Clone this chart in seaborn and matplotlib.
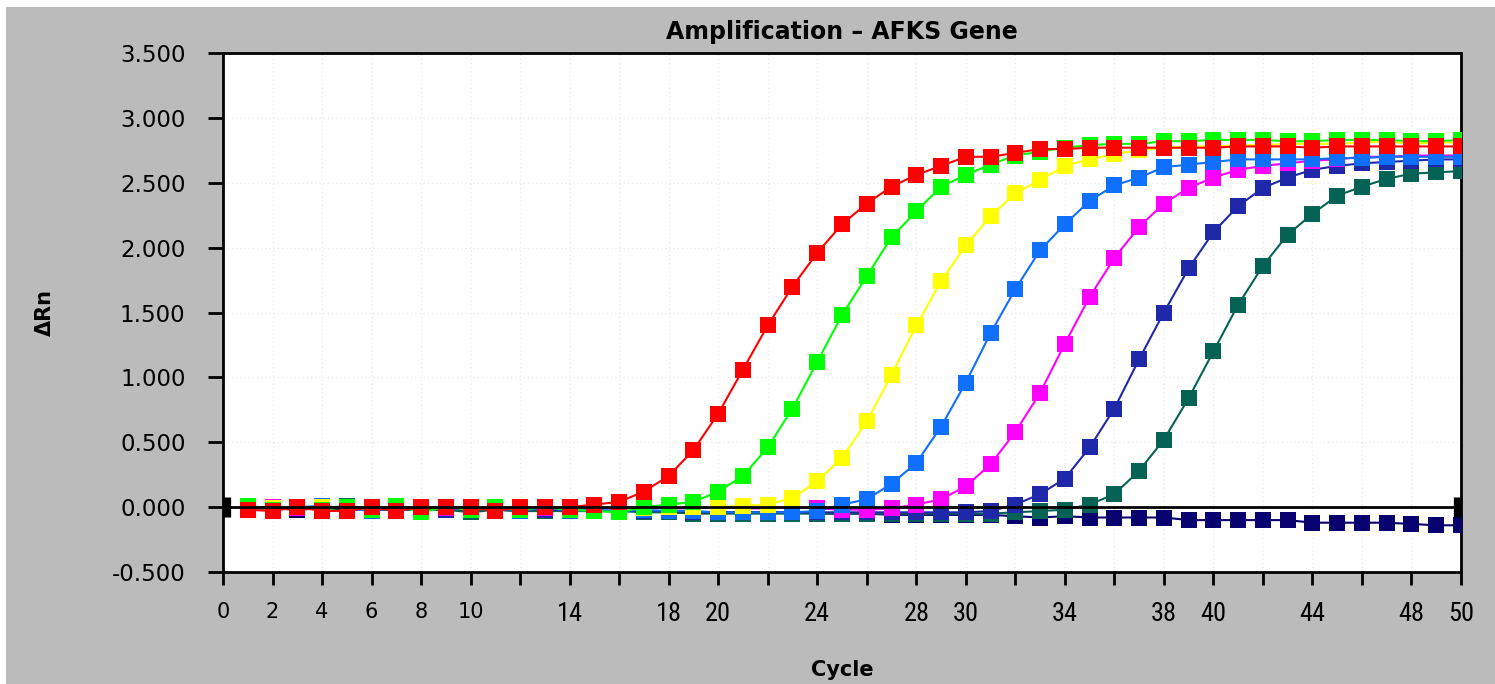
import numpy as np
import pandas as pd
import matplotlib
matplotlib.use("Agg")
import matplotlib.pyplot as plt
from matplotlib import font_manager
from matplotlib.patches import Rectangle
from matplotlib.ticker import FormatStrFormatter
import seaborn as sns

# ---- data: delta Rn per cycle for eight samples --------------------------
cycles = list(range(1, 51))

red = [-0.02, -0.03, 0.00, -0.03, -0.03, 0.00, -0.03, 0.00, 0.00, 0.00,
       -0.03, 0.00, 0.00, 0.00, 0.02, 0.04, 0.12, 0.24, 0.44, 0.72,
       1.06, 1.40, 1.70, 1.96, 2.18, 2.34, 2.47, 2.56, 2.63, 2.70,
       2.70, 2.73, 2.76, 2.76, 2.77, 2.77, 2.77, 2.77, 2.77, 2.77,
       2.78, 2.78, 2.78, 2.77, 2.78, 2.78, 2.78, 2.78, 2.78, 2.78]

green = [0.01, -0.02, 0.00, -0.02, 0.00, -0.02, 0.01, -0.04, 0.00, -0.02,
         0.00, -0.02, 0.00, -0.02, -0.03, -0.04, 0.00, 0.02, 0.04, 0.12,
         0.24, 0.46, 0.76, 1.12, 1.48, 1.78, 2.08, 2.28, 2.47, 2.56,
         2.64, 2.71, 2.74, 2.77, 2.79, 2.80, 2.80, 2.82, 2.82, 2.83,
         2.83, 2.83, 2.82, 2.82, 2.83, 2.83, 2.83, 2.82, 2.82, 2.83]

yellow = [0.00, -0.01, 0.00, 0.00, -0.01, 0.00, 0.00, -0.01, 0.00, 0.00,
          -0.01, 0.00, 0.00, -0.01, 0.00, 0.00, -0.01, 0.00, 0.00, 0.00,
          0.01, 0.02, 0.07, 0.20, 0.38, 0.66, 1.02, 1.40, 1.74, 2.02,
          2.24, 2.42, 2.52, 2.63, 2.68, 2.72, 2.75, 2.77, 2.78, 2.78,
          2.79, 2.79, 2.80, 2.80, 2.80, 2.81, 2.82, 2.80, 2.81, 2.81]

blue = [0.01, -0.01, 0.00, 0.01, -0.01, -0.03, 0.00, -0.01, 0.00, -0.02,
        0.00, -0.03, 0.00, -0.03, -0.02, -0.03, -0.02, -0.03, -0.03, -0.04,
        -0.04, -0.04, -0.04, -0.03, 0.02, 0.06, 0.18, 0.34, 0.62, 0.96,
        1.34, 1.68, 1.98, 2.18, 2.36, 2.48, 2.54, 2.62, 2.64, 2.66,
        2.68, 2.68, 2.68, 2.68, 2.69, 2.69, 2.70, 2.70, 2.70, 2.70]

magenta = [-0.01, 0.00, -0.01, -0.01, 0.00, -0.01, -0.01, 0.00, -0.01, -0.01,
           0.00, -0.01, -0.01, 0.00, -0.01, -0.01, 0.00, -0.01, -0.01, 0.00,
           -0.01, -0.01, 0.00, -0.01, -0.02, -0.02, -0.01, 0.02, 0.06, 0.16,
           0.33, 0.58, 0.88, 1.26, 1.62, 1.92, 2.16, 2.34, 2.46, 2.54,
           2.60, 2.63, 2.65, 2.67, 2.68, 2.70, 2.70, 2.71, 2.71, 2.71]

darkblue = [0.00, -0.01, 0.00, -0.01, -0.01, 0.00, -0.01, -0.01, -0.02, 0.00,
            -0.02, -0.01, -0.02, -0.02, -0.03, -0.03, -0.03, -0.03, -0.04, -0.04,
            -0.04, -0.04, -0.04, -0.04, -0.04, -0.04, -0.04, -0.04, -0.04, -0.04,
            -0.03, 0.02, 0.10, 0.22, 0.46, 0.76, 1.14, 1.50, 1.84, 2.12,
            2.32, 2.46, 2.54, 2.60, 2.63, 2.65, 2.66, 2.67, 2.68, 2.68]

teal = [0.00, -0.01, 0.00, -0.01, 0.01, -0.01, -0.02, -0.01, -0.02, -0.04,
        -0.02, -0.03, -0.03, -0.03, -0.03, -0.03, -0.04, -0.04, -0.05, -0.05,
        -0.05, -0.05, -0.05, -0.05, -0.05, -0.05, -0.05, -0.05, -0.05, -0.05,
        -0.05, -0.04, -0.03, -0.02, 0.02, 0.10, 0.28, 0.52, 0.84, 1.20,
        1.56, 1.86, 2.10, 2.26, 2.40, 2.47, 2.53, 2.57, 2.58, 2.59]

navy = [-0.01, -0.01, -0.02, -0.01, -0.02, -0.02, -0.02, -0.02, -0.02, -0.02,
        -0.02, -0.03, -0.03, -0.03, -0.03, -0.03, -0.03, -0.04, -0.04, -0.04,
        -0.04, -0.04, -0.04, -0.05, -0.05, -0.05, -0.06, -0.06, -0.06, -0.06,
        -0.06, -0.07, -0.08, -0.07, -0.08, -0.08, -0.08, -0.08, -0.10, -0.10,
        -0.10, -0.10, -0.10, -0.12, -0.12, -0.12, -0.12, -0.13, -0.14, -0.14]

# draw order: last listed ends up on top
samples = ["NTC", "S7", "S6", "S5", "S4", "S3", "S2", "S1"]
series = [navy, teal, darkblue, magenta, blue, yellow, green, red]
colors = ["#07006E", "#056355", "#1F28A8", "#FF00FF",
          "#0F6FFF", "#FFFF00", "#00FF00", "#FF0000"]

x_ticks = list(range(0, 51, 2))
x_labels_shown = [0, 2, 4, 6, 8, 10, 14, 18, 20, 24, 28, 30, 34, 38, 40, 44, 48, 50]
y_ticks = [-0.5, 0.0, 0.5, 1.0, 1.5, 2.0, 2.5, 3.0, 3.5]

df = pd.concat(
    [pd.DataFrame({"cycle": cycles, "drn": vals, "sample": name})
     for name, vals in zip(samples, series)],
    ignore_index=True,
)

# ---- figure ---------------------------------------------------------------
sns.set_style("white")
plt.rcParams["font.family"] = ["DejaVu Sans"]
plt.rcParams["text.color"] = "black"
plt.rcParams["axes.labelcolor"] = "black"
plt.rcParams["axes.titlecolor"] = "black"

W, H = 1495, 684
fig = plt.figure(figsize=(W / 100, H / 100), dpi=100)
fig.patch.set_facecolor("white")
fig.patches.append(Rectangle((6 / W, 0), 1, (H - 7) / H, transform=fig.transFigure,
                             facecolor="#BBBBBB", edgecolor="none", zorder=-10))

ax_l, ax_r, ax_t, ax_b = 223, 1461, 53, 572
ax = fig.add_axes([ax_l / W, 1 - ax_b / H, (ax_r - ax_l) / W, (ax_b - ax_t) / H])
ax.set_facecolor("white")

sns.lineplot(data=df, x="cycle", y="drn", hue="sample", hue_order=samples,
             palette=dict(zip(samples, colors)), estimator=None, sort=False,
             marker="s", markersize=11.5, markeredgewidth=0, linewidth=1.5,
             legend=False, ax=ax, zorder=3)

# threshold line with its end handles
ax.axhline(0, color="black", linewidth=2.0, zorder=5)
ax.plot([0, 50], [0, 0], linestyle="none", marker="|", markersize=15,
        markeredgewidth=11, color="black", zorder=6, clip_on=True)

ax.set_xlim(0, 50)
ax.set_ylim(-0.5, 3.5)

# faint dotted grid
ax.set_xticks(x_ticks)
ax.set_yticks(y_ticks)
ax.grid(True, color="#ECECEC", linestyle=(0, (1, 2)), linewidth=1.0, zorder=0)
ax.set_axisbelow(True)

ax.yaxis.set_major_formatter(FormatStrFormatter("%.3f"))
ax.set_xticklabels([str(t) if t in x_labels_shown else "" for t in x_ticks])

for s in ax.spines.values():
    s.set_visible(True)
    s.set_color("black")
    s.set_linewidth(2.0)

ax.tick_params(axis="y", direction="out", length=11, width=2, pad=16,
               labelsize=16.5, colors="black", left=True)
ax.tick_params(axis="x", direction="out", length=9.5, width=2, pad=12,
               labelsize=15, colors="black", bottom=True)


def has_font(name):
    try:
        font_manager.findfont(name, fallback_to_default=False)
        return True
    except Exception:
        return False


narrow = None
for cand in ["Liberation Sans Narrow", "Roboto Condensed", "DejaVu Sans Condensed"]:
    if has_font(cand):
        narrow = cand
        break
if narrow:
    for lab, t in zip(ax.get_xticklabels(), x_ticks):
        if t >= 14:
            lab.set_fontfamily(narrow)
            lab.set_fontsize(19)

ax.set_xlabel("Cycle", fontsize=15, fontweight="bold", color="black")
ax.xaxis.label.set_va("center")
ax.xaxis.set_label_coords(0.5, -(670 - ax_b) / (ax_b - ax_t))

ax.set_ylabel("ΔRn", fontsize=15, fontweight="bold", color="black")
ax.yaxis.label.set_rotation_mode("default")
ax.yaxis.label.set_va("center")
ax.yaxis.label.set_ha("center")
ax.yaxis.set_label_coords(-(ax_l - 45) / (ax_r - ax_l), 0.5)

ax.set_title("Amplification – AFKS Gene", fontsize=17, fontweight="bold",
             color="black", y=1 + (ax_t - 32) / (ax_b - ax_t), va="center", pad=0)

fig.savefig("out.png", dpi=100, facecolor=fig.get_facecolor())
